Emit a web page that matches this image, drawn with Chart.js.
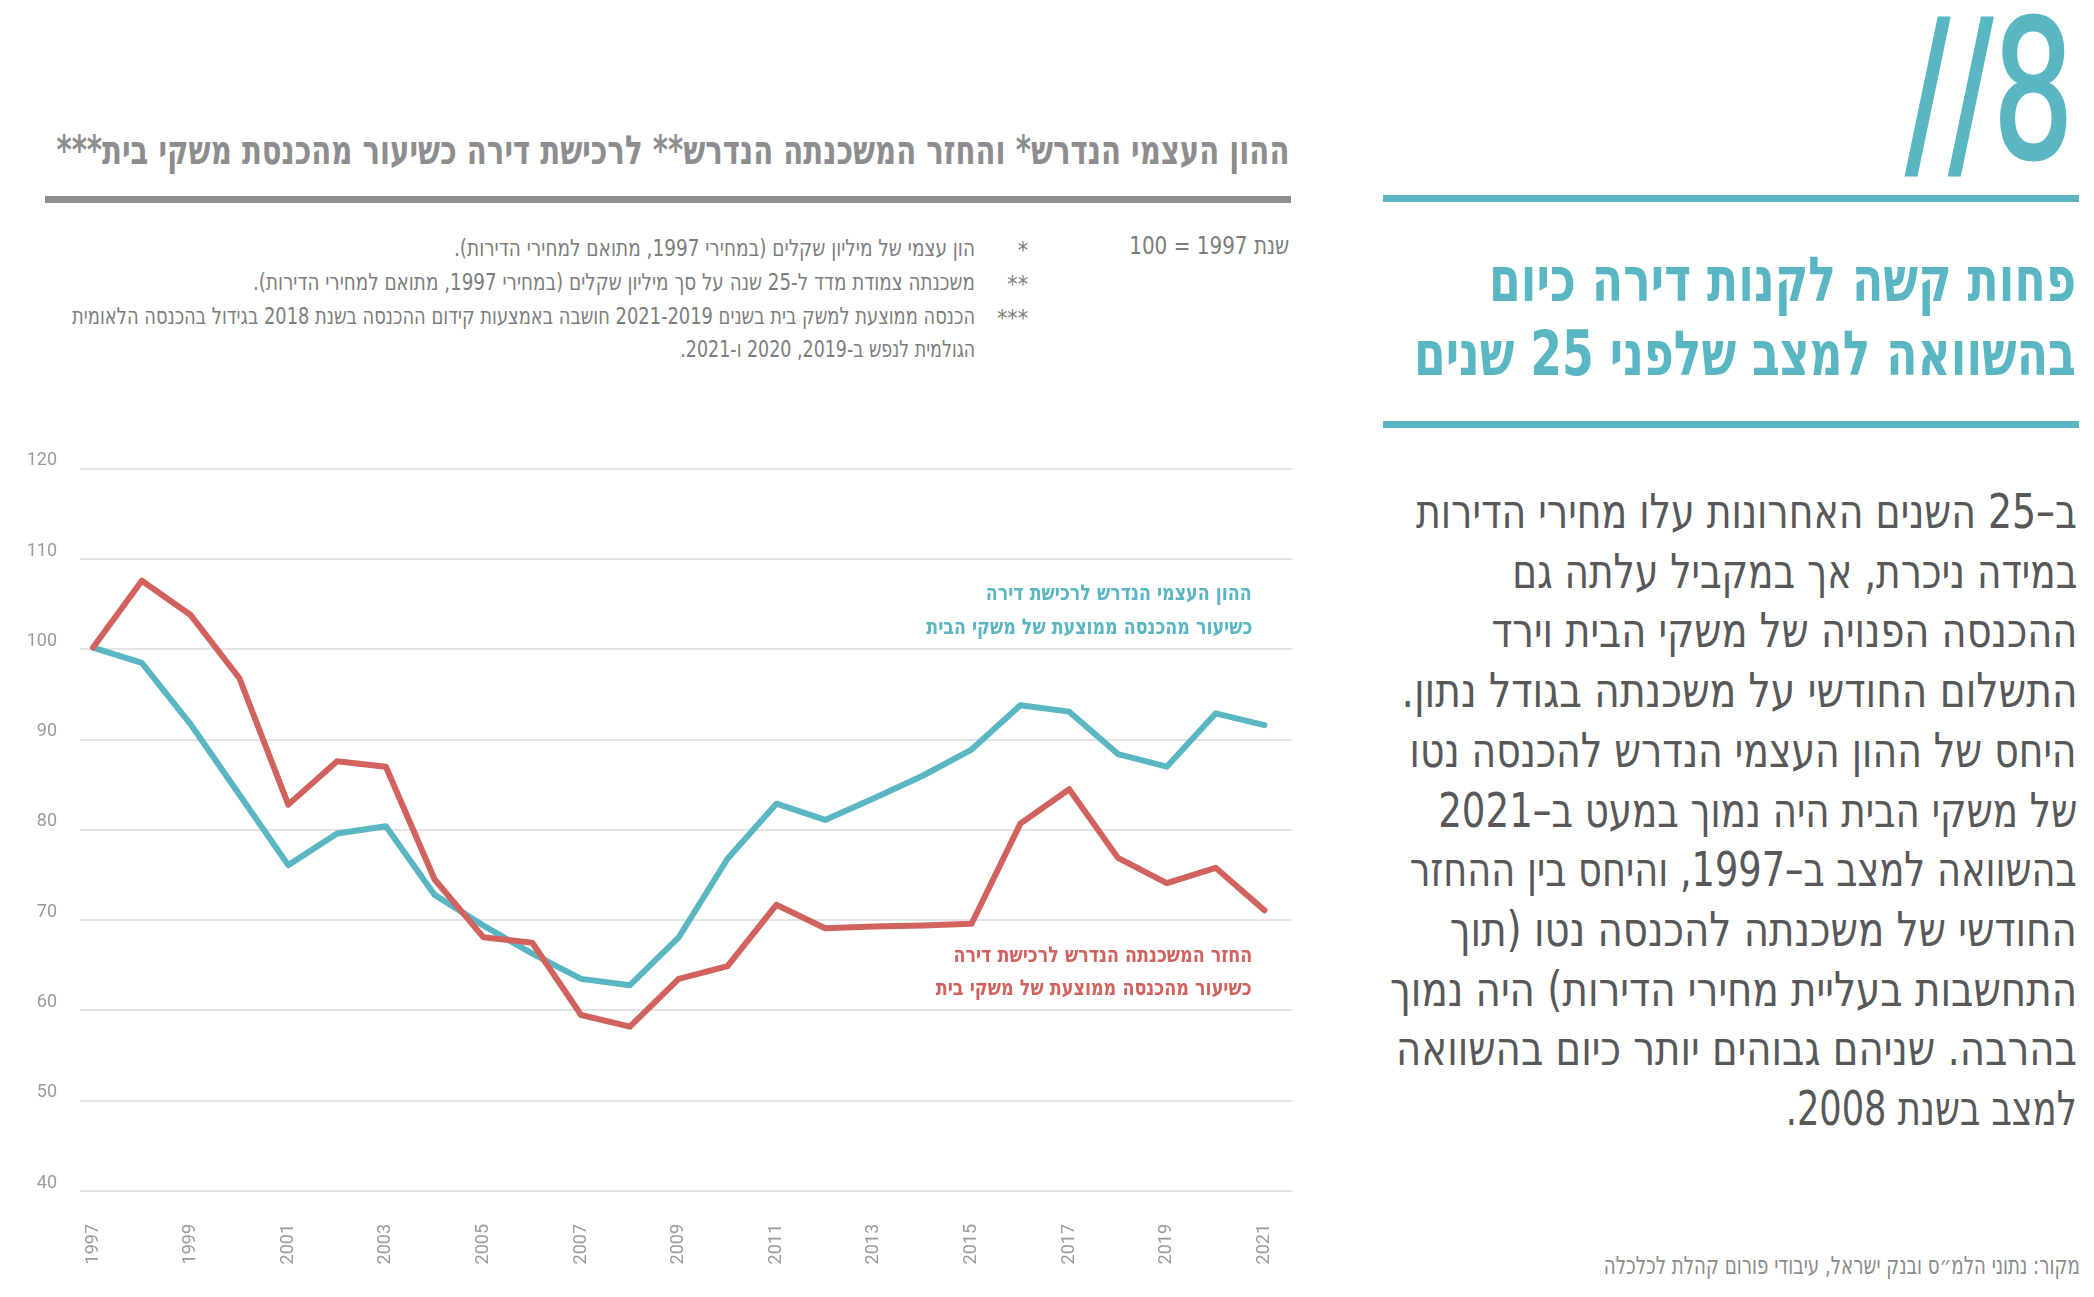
<!DOCTYPE html>
<html lang="he">
<head>
<meta charset="utf-8">
<script src="https://cdn.jsdelivr.net/npm/chart.js@4.4.0/dist/chart.umd.min.js"></script>
<style>
html,body{margin:0;padding:0;background:#fff;}
#page{position:relative;width:2094px;height:1297px;overflow:hidden;background:#fff;}
.t{position:absolute;white-space:nowrap;direction:rtl;line-height:1;transform-origin:100% 50%;
   font-family:"DejaVu Sans Condensed","DejaVu Sans",sans-serif;font-stretch:condensed;}
.rule{position:absolute;}
#chartBox{position:absolute;left:0;top:435px;width:1311px;height:853px;}
</style>
</head>
<body>
<div id="page">
  <div class="rule" style="left:45px;top:196px;width:1246px;height:7px;background:#8e8e90"></div>
  <div class="rule" style="left:1383px;top:195px;width:696px;height:7px;background:#5bb6c4"></div>
  <div class="rule" style="left:1383px;top:421px;width:696px;height:7px;background:#5bb6c4"></div>
  <div id="chartBox"><canvas id="c"></canvas></div>
</div>
<script>
// ---- data ----
const years = [1997,1998,1999,2000,2001,2002,2003,2004,2005,2006,2007,2008,2009,2010,2011,2012,2013,2014,2015,2016,2017,2018,2019,2020,2021];
const equityRatio = [100.2,98.5,91.7,83.9,76.1,79.6,80.4,72.8,69.4,66.3,63.5,62.8,68.1,76.8,82.9,81.1,83.5,86.0,88.9,93.8,93.1,88.4,87.0,92.9,91.6];
const mortgageRatio = [100.2,107.6,103.8,96.8,82.8,87.6,87.0,74.5,68.1,67.5,59.5,58.2,63.5,64.9,71.7,69.1,69.3,69.4,69.6,80.7,84.5,76.9,74.1,75.8,71.1];
const yearTickLabels = [1997,1999,2001,2003,2005,2007,2009,2011,2013,2015,2017,2019,2021];
const yMin = 40, yMax = 120, yStep = 10;

const TEAL = '#5bb6c4';
const RED = '#d1625e';

// ---- texts ----
const bodyLines = [
  "ב–25 השנים האחרונות עלו מחירי הדירות",
  "במידה ניכרת, אך במקביל עלתה גם",
  "ההכנסה הפנויה של משקי הבית וירד",
  "התשלום החודשי על משכנתה בגודל נתון.",
  "היחס של ההון העצמי הנדרש להכנסה נטו",
  "של משקי הבית היה נמוך במעט ב–2021",
  "בהשוואה למצב ב–1997, והיחס בין ההחזר",
  "החודשי של משכנתה להכנסה נטו (תוך",
  "התחשבות בעליית מחירי הדירות) היה נמוך",
  "בהרבה. שניהם גבוהים יותר כיום בהשוואה",
  "למצב בשנת 2008."
];
const bodyLefts = [1416,1512,1491,1401,1410,1438,1410,1450,1390,1396,1786];

const texts = [
  {s:"ההון העצמי הנדרש* והחזר המשכנתה הנדרש** לרכישת דירה כשיעור מהכנסת משקי בית***", l:56, r:1289, cy:150, size:40, w:700, c:'#8d8d8f'},
  {s:"שנת 1997 = 100", l:1129, r:1289, cy:245, size:25, w:400, c:'#7d7d7d'},
  {s:"*", r:1028, cy:250, size:23, w:400, c:'#7d7d7d'},
  {s:"**", r:1028, cy:284, size:23, w:400, c:'#7d7d7d'},
  {s:"***", r:1028, cy:318, size:23, w:400, c:'#7d7d7d'},
  {s:"הון עצמי של מיליון שקלים (במחירי 1997, מתואם למחירי הדירות).", l:454, r:975, cy:248, size:23, w:400, c:'#7d7d7d'},
  {s:"משכנתה צמודת מדד ל-25 שנה על סך מיליון שקלים (במחירי 1997, מתואם למחירי הדירות).", l:253, r:975, cy:282, size:23, w:400, c:'#7d7d7d'},
  {s:"הכנסה ממוצעת למשק בית בשנים 2021-2019 חושבה באמצעות קידום ההכנסה בשנת 2018 בגידול בהכנסה הלאומית", l:72, r:975, cy:316, size:23, w:400, c:'#7d7d7d'},
  {s:"הגולמית לנפש ב-2019, 2020 ו-2021.", l:680, r:975, cy:349, size:23, w:400, c:'#7d7d7d'},
  {s:"//8", l:1906, r:2074, cy:92, size:190, w:400, c:TEAL, ltr:true, stroke:3},
  {s:"פחות קשה לקנות דירה כיום", l:1489, r:2076, cy:280, size:62, w:700, c:TEAL},
  {s:"בהשוואה למצב שלפני 25 שנים", l:1414, r:2076, cy:354, size:62, w:700, c:TEAL},
  {s:"ההון העצמי הנדרש לרכישת דירה", l:986, r:1252, cy:593, size:22, w:700, c:TEAL},
  {s:"כשיעור מהכנסה ממוצעת של משקי הבית", l:926, r:1252, cy:627, size:22, w:700, c:TEAL},
  {s:"החזר המשכנתה הנדרש לרכישת דירה", l:953, r:1252, cy:955, size:22, w:700, c:RED},
  {s:"כשיעור מהכנסה ממוצעת של משקי בית", l:936, r:1252, cy:988, size:22, w:700, c:RED},
  {s:"מקור: נתוני הלמ״ס ובנק ישראל, עיבודי פורום קהלת לכלכלה", l:1604, r:2080, cy:1265, size:25, w:400, c:'#8a8a8a'}
];
bodyLines.forEach((s,i)=>texts.push({s:s, l:bodyLefts[i], r:2077, cy:511 + i*59.7, size:48, w:400, c:'#58585a'}));

const page = document.getElementById('page');
function place(t){
  const e = document.createElement('div');
  e.className = 't';
  e.textContent = t.s;
  e.style.fontSize = t.size + 'px';
  e.style.fontWeight = t.w;
  e.style.color = t.c;
  e.style.right = (2094 - t.r) + 'px';
  e.style.top = (t.cy - t.size*0.5) + 'px';
  if (t.ltr) e.style.direction = 'ltr';
  if (t.stroke) e.style.webkitTextStroke = t.stroke + 'px ' + t.c;
  page.appendChild(e);
  if (t.l != null) {
    const w = e.getBoundingClientRect().width;
    if (w > 0) e.style.transform = 'scaleX(' + ((t.r - t.l)/w) + ')';
  }
}
texts.forEach(place);

// ---- chart ----
const ctx = document.getElementById('c').getContext('2d');
new Chart(ctx, {
  type: 'line',
  data: {
    datasets: [
      {
        label: 'החזר המשכנתה',
        data: years.map((y,i)=>({x:y, y:mortgageRatio[i]})),
        borderColor: RED, backgroundColor: RED, borderWidth: 6,
        pointRadius: 0, tension: 0, borderJoinStyle: 'round', borderCapStyle: 'round',
        order: 0
      },
      {
        label: 'ההון העצמי',
        data: years.map((y,i)=>({x:y, y:equityRatio[i]})),
        borderColor: TEAL, backgroundColor: TEAL, borderWidth: 6,
        pointRadius: 0, tension: 0, borderJoinStyle: 'round', borderCapStyle: 'round',
        order: 1
      }
    ]
  },
  options: {
    responsive: true,
    maintainAspectRatio: false,
    animation: false,
    layout: {padding: {top: 7, right: 0, left: 0, bottom: 0}},
    plugins: {legend: {display: false}, tooltip: {enabled: false}},
    scales: {
      x: {
        type: 'linear',
        min: 1996.733, max: 2021.574,
        afterBuildTicks: (a) => { a.ticks = yearTickLabels.map(v => ({value: v})); },
        afterFit: (s) => { s.height = 97; },
        grid: {display: false},
        border: {display: false},
        ticks: {
          autoSkip: false, minRotation: 90, maxRotation: 90, padding: 25,
          color: '#9b9b9b', font: {family: 'Roboto', size: 18},
          callback: (v) => String(v)
        }
      },
      y: {
        min: yMin, max: yMax,
        afterFit: (s) => { s.width = 80; },
        grid: {color: '#e4e4e4', lineWidth: 2, drawTicks: false},
        border: {display: false},
        ticks: {
          stepSize: yStep, padding: 23, labelOffset: -8,
          color: '#9b9b9b', font: {family: 'Roboto', size: 18}
        }
      }
    }
  }
});
</script>
</body>
</html>
